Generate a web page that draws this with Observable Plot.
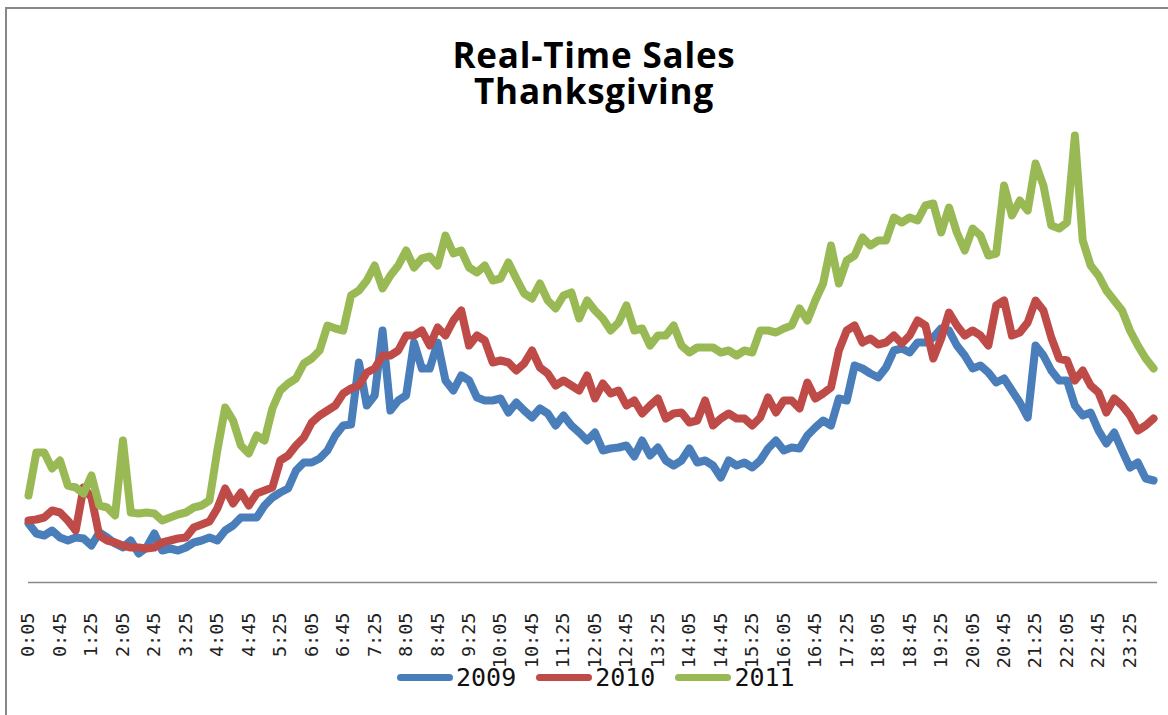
<!DOCTYPE html>
<html><head><meta charset="utf-8">
<script src="https://cdn.jsdelivr.net/npm/d3@7"></script>
<script src="https://cdn.jsdelivr.net/npm/@observablehq/plot@0.6"></script>
<style>
html,body{margin:0;padding:0;background:#fff;width:1168px;height:715px;overflow:hidden;position:relative}
#frame{position:absolute;left:5px;top:7px;width:1300px;height:900px;border-left:2.5px solid #888;border-top:2.5px solid #888}
.title{position:absolute;left:0;width:1188px;text-align:center;font-family:"Open Sans";font-weight:bold;font-size:35px;line-height:34px;color:#000;letter-spacing:0.8px}
#t1{top:38px}
#t2{top:74px}
#chart{position:absolute;left:0;top:120px}
#legend{position:absolute;top:663px;left:397px;display:flex;align-items:center;font-family:"DejaVu Sans Mono";font-size:25px;color:#111}
.item{display:flex;align-items:center;margin-right:20px}
.sw{width:56px;height:7px;border-radius:4px;margin-right:3px}
</style></head>
<body>
<div id="frame"></div>
<div class="title" id="t1">Real-Time Sales</div>
<div class="title" id="t2">Thanksgiving</div>
<div id="chart"></div>
<div id="legend"></div>
<script>
// 10-minute samples starting 0:05 (minutes after midnight)
const times = d3.range(5, 1440, 10);

const sales2009 = [59,49,47,52,45,42,45,44,37,50,45,39,35,42,29,35,49,32,34,32,35,40,42,45,42,52,57,65,65,65,
77,85,90,94,112,120,120,124,132,147,157,158,220,177,187,252,172,182,187,240,214,214,240,202,192,207,202,185,182,182,
184,170,180,172,165,174,169,157,167,157,150,142,150,132,134,135,137,126,142,127,135,122,117,122,134,120,122,117,105,122,
117,120,115,122,134,142,132,135,134,147,155,162,157,184,182,217,214,209,205,215,232,234,230,240,240,245,254,252,237,227,
214,217,210,200,204,192,180,165,237,227,212,202,202,177,167,170,152,139,150,132,115,120,104,102];

const sales2010 = [62,63,65,72,70,62,52,95,85,47,42,40,37,35,35,34,35,40,42,44,45,55,58,61,74,94,79,90,77,89,
92,95,122,127,137,145,160,167,172,177,189,194,197,210,214,227,227,232,247,247,252,237,255,247,262,272,237,247,242,220,
222,220,212,219,232,215,209,197,202,197,192,207,184,199,189,192,177,182,169,177,184,164,169,170,160,162,182,157,164,169,
164,164,157,165,185,170,182,182,174,200,184,189,195,232,252,257,240,244,238,240,247,239,247,262,257,224,244,270,257,247,
252,247,237,277,282,247,250,260,282,272,245,224,222,202,212,197,190,170,184,177,167,152,157,164];

const sales2011 = [87,130,130,114,122,97,95,89,107,77,75,67,142,70,69,70,69,62,65,68,70,75,77,82,132,175,162,137,129,147,
142,174,192,199,204,219,224,232,257,254,252,287,292,302,317,294,307,317,332,315,324,326,317,347,329,332,315,310,317,302,
304,320,304,289,284,299,282,274,287,290,264,282,272,264,252,260,277,252,254,237,247,247,257,237,230,235,235,235,230,232,
227,232,230,252,252,250,254,257,274,262,282,299,337,299,322,327,345,337,342,342,365,360,365,362,377,379,350,375,350,332,
354,347,327,329,397,367,382,372,419,397,357,354,360,447,342,317,307,292,282,272,252,237,224,214];

const years = ["2009", "2010", "2011"];
const colors = ["#4A7EBB", "#BE4B48", "#98B954"];
const tickLabels = ["0:05","0:45","1:25","2:05","2:45","3:25","4:05","4:45","5:25","6:05","6:45","7:25",
"8:05","8:45","9:25","10:05","10:45","11:25","12:05","12:45","13:25","14:05","14:45","15:25","16:05","16:45",
"17:25","18:05","18:45","19:25","20:05","20:45","21:25","22:05","22:45","23:25"];

const toMin = s => { const [h, m] = s.split(":").map(Number); return h * 60 + m; };
const tickMinutes = tickLabels.map(toMin);
const fmt = m => `${Math.floor(m / 60)}:${String(m % 60).padStart(2, "0")}`;

const series = [sales2009, sales2010, sales2011];
const rows = [];
series.forEach((vals, k) => vals.forEach((v, i) => rows.push({year: years[k], t: times[i], v})));

const chart = Plot.plot({
  width: 1168,
  height: 530,
  marginLeft: 28,
  marginRight: 11,
  marginTop: 12,
  marginBottom: 68,
  style: {fontFamily: "DejaVu Sans Mono", fontSize: "18.5px", color: "#222", background: "transparent", overflow: "visible"},
  x: {domain: [5, 1440], axis: null},
  y: {domain: [0, 450], axis: null},
  color: {domain: years, range: colors},
  marks: [
    Plot.ruleY([0], {stroke: "#888", strokeWidth: 1.5}),
    Plot.axisX({ticks: tickMinutes, tickFormat: fmt, tickRotate: -90, tickSize: 0, tickPadding: 30, label: null, fontSize: 18.5, fill: "#222"}),
    Plot.lineY(rows, {x: "t", y: "v", z: "year", stroke: "year", strokeWidth: 8, strokeLinejoin: "round", strokeLinecap: "round", curve: "linear"})
  ]
});
document.getElementById("chart").appendChild(chart);

const legend = document.getElementById("legend");
years.forEach((y, k) => {
  const it = document.createElement("div");
  it.className = "item";
  it.innerHTML = `<span class="sw" style="background:${colors[k]}"></span><span>${y}</span>`;
  legend.appendChild(it);
});
</script>
</body></html>
